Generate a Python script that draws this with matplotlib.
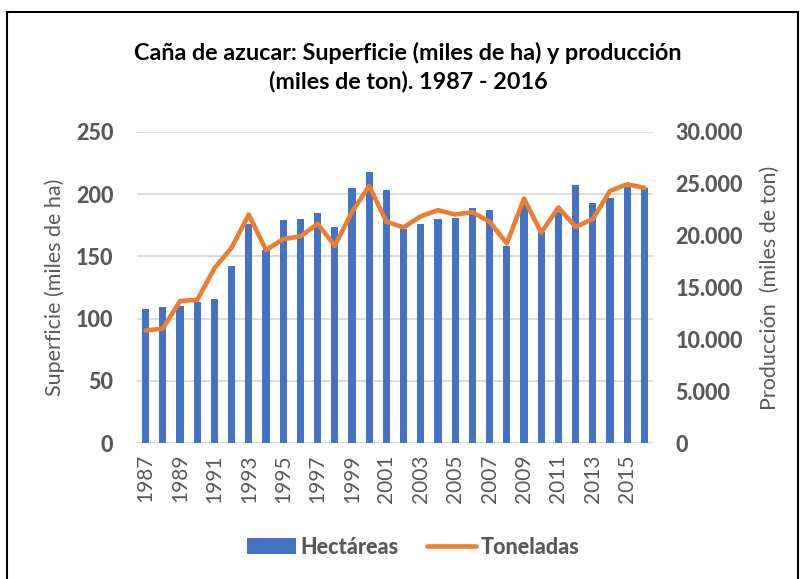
import numpy as np
import matplotlib
matplotlib.use("Agg")
from matplotlib import pyplot as plt
from matplotlib.patches import Rectangle

years = list(range(1987, 2017))
hectareas = [108, 109, 110, 113, 116, 142, 176, 155, 179, 180,
             185, 174, 205, 218, 203, 172, 176, 180, 181, 189,
             187, 158, 193, 170, 186, 207, 193, 197, 206, 205]
toneladas = [10850, 11040, 13700, 13800, 16850, 18840, 22040, 18610, 19670, 19930,
             21140, 19030, 22300, 24800, 21340, 20800, 21880, 22460, 22040, 22270,
             21340, 19250, 23580, 20280, 22720, 20860, 21600, 24320, 24960, 24610]
left_ticks = [0, 50, 100, 150, 200, 250]
right_ticks = [0, 5000, 10000, 15000, 20000, 25000, 30000]

grey = "#595959"
plt.rcParams['font.family'] = ['Lato', 'DejaVu Sans']

fig = plt.figure(figsize=(8.01, 5.79), dpi=100)
ax = fig.add_axes([137/801, 1 - 443/579, (653 - 137)/801, (443 - 132)/579])
ax2 = ax.twinx()

x = np.arange(len(years))
ax.bar(x, hectareas, width=0.42, color="#4472c4", zorder=3, label="Hectáreas")
ax2.plot(x, toneladas, color="#ed7d31", lw=3.3, solid_capstyle="round",
         solid_joinstyle="round", zorder=4, label="Toneladas")

ax.set_xlim(-0.5, len(years) - 0.5)
ax.set_ylim(0, 250)
ax2.set_ylim(0, 30000)
ax.set_yticks(left_ticks, [str(v) for v in left_ticks],
              fontsize=15.5, fontweight="black", color=grey)
ax2.set_yticks(right_ticks, [f"{v:,}".replace(",", ".") for v in right_ticks],
               fontsize=15.5, fontweight="black", color=grey)
ax.set_xticks(x[::2], [str(y) for y in years[::2]], rotation=90,
              fontsize=15, color=grey)

ax.grid(axis="y", color="#d9d9d9", lw=1.3, zorder=0)
for a in (ax, ax2):
    for s in a.spines.values():
        s.set_visible(False)
    a.tick_params(length=0)
ax.tick_params(axis="y", pad=17)
ax2.tick_params(axis="y", pad=16)
ax.tick_params(axis="x", pad=8)

ax.set_ylabel("Superficie (miles de ha)", fontsize=15.5, color=grey, labelpad=8)
ax2.set_ylabel("Producción  (miles de ton)", fontsize=15.5, color=grey, labelpad=12)

fig.text(408/801, 1 - 67/579,
         "Caña de azucar: Superficie (miles de ha) y producción\n(miles de ton). 1987 - 2016",
         ha="center", va="center", fontsize=16.8, fontweight="bold", color="black",
         linespacing=1.4)

h1, l1 = ax.get_legend_handles_labels()
h2, l2 = ax2.get_legend_handles_labels()
leg = fig.legend(h1 + h2, l1 + l2, loc="center", bbox_to_anchor=(413/801, 1 - 547/579),
                 ncol=2, frameon=False, handlelength=2.3, handleheight=0.8,
                 columnspacing=1.3, handletextpad=0.2,
                 prop={"weight": "black", "size": 15.5})
for t in leg.get_texts():
    t.set_color(grey)

fig.patches.append(Rectangle((7/801, -0.01), (798 - 7)/801, 1 - 12/579 + 0.01,
                             transform=fig.transFigure, fill=False, ec="black", lw=1.5))

fig.savefig("out.png", dpi=100)
